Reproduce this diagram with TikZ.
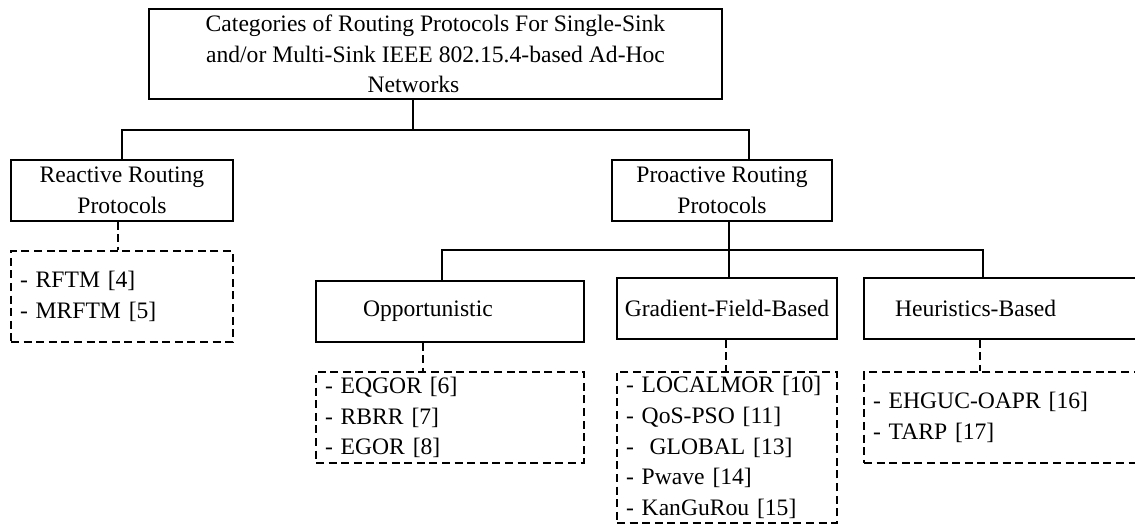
\documentclass[tikz,border=0pt]{standalone}
\usepackage{fontspec}
\setmainfont{Liberation Serif}
\usepackage{tikz}

\begin{document}
\begin{tikzpicture}
  [x=0.5pt,y=-0.5pt,line width=0.7pt,
   every node/.style={font=\fontsize{11.8}{15.3}\selectfont,inner sep=0pt},
   cat/.style={draw,align=center},
   lst/.style={draw,dash pattern=on 4pt off 2.3pt,align=left,inner xsep=4.5pt},
   dsh/.style={dash pattern=on 4pt off 2.3pt}]

  \useasboundingbox (0,0) rectangle (1135,525);

  % categories
  \node[cat,minimum width=286.5pt,minimum height=45pt] (root) at (435.5,54)
    {Categories of Routing Protocols For Single-Sink\\and/or Multi-Sink IEEE 802.15.4-based Ad-Hoc\\Networks\hspace*{22pt}};
  \node[cat,minimum width=111pt,minimum height=30.5pt] (react) at (122,190.5) {Reactive Routing\\Protocols};
  \node[cat,minimum width=110pt,minimum height=30.5pt] (pro) at (722,190.5) {Proactive Routing\\Protocols};
  \node[cat,align=left,text width=87pt,inner xsep=23.5pt,minimum height=30.5pt] (opp) at (450,311.5) {Opportunistic};
  \node[cat,minimum width=110pt,minimum height=30.5pt] (grad) at (727,308.5) {Gradient-Field-Based};
  \node[cat,align=left,text width=107pt,inner xsep=15.5pt,minimum height=30.5pt] (heur) at (1002,308.5) {Heuristics-Based};

  % lists
  \node[lst,text width=102pt,minimum height=45.5pt] (rlist) at (122,296.5) {- RFTM [4]\\- MRFTM [5]};
  \node[lst,text width=125pt,minimum height=45.5pt] (olist) at (450,417.5) {- EQGOR [6]\\- RBRR [7]\\- EGOR [8]};
  \node[lst,text width=101pt,minimum height=75.5pt] (glist) at (727,447.5) {- LOCALMOR [10]\\- QoS-PSO [11]\\- \ GLOBAL [13]\\- Pwave [14]\\- KanGuRou [15]};
  \node[lst,text width=129pt,minimum height=45.5pt] (hlist) at (1002,417.5) {- EHGUC-OAPR [16]\\- TARP [17]};

  \coordinate (j0) at (413,130);
  \coordinate (j1) at (749,130);
  \coordinate (j2) at (729,250);
  \coordinate (k1) at (442,250);
  \coordinate (k3) at (983,250);

  \draw (j0 |- root.south) -- (j0);
  \draw (react.north) |- (j1) -- (j1 |- pro.north);
  \draw (j2 |- pro.south) -- (j2);
  \draw (k1 |- opp.north) -- (k1) -- (k3) -- (k3 |- heur.north);
  \draw (j2) -- (j2 |- grad.north);

  \foreach \from/\to/\s in {react/rlist/-2pt,opp/olist/-13.5pt,grad/glist/-0.5pt,heur/hlist/-11pt}
    \draw[dsh] ([xshift=\s]\from.south) -- ([xshift=\s]\from.south |- \to.north);

\end{tikzpicture}
\end{document}
